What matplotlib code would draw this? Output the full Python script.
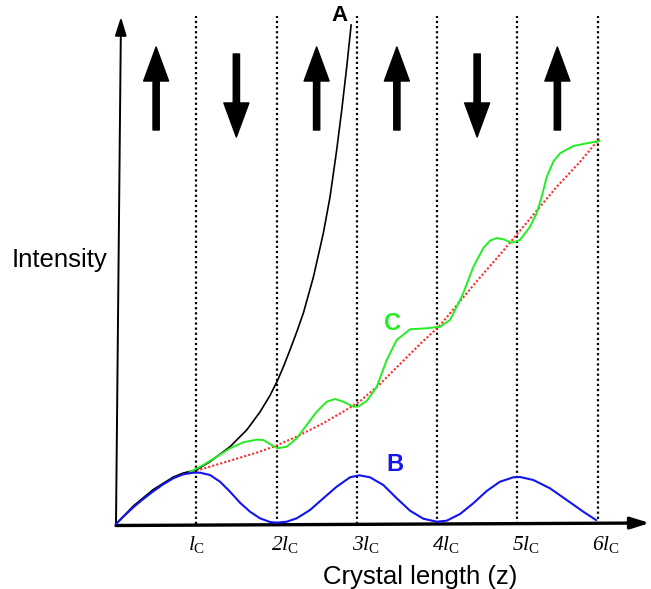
import matplotlib
matplotlib.use("Agg")
import matplotlib.pyplot as plt

plt.rcParams["font.family"] = ["Liberation Sans", "DejaVu Sans"]
# italic serif for the digits and l, upright serif for the subscript C
plt.rcParams["mathtext.fontset"] = "custom"
plt.rcParams["mathtext.rm"] = "Liberation Serif:italic"
plt.rcParams["mathtext.it"] = "Liberation Serif:italic"
plt.rcParams["mathtext.sf"] = "Liberation Serif"

# crystal length in units of the coherence length l_c
tick_pos = [1, 2, 3, 4, 5, 6]
tick_labels = [r"$l_{\mathsf{C}}$", r"$2l_{\mathsf{C}}$", r"$3l_{\mathsf{C}}$",
               r"$4l_{\mathsf{C}}$", r"$5l_{\mathsf{C}}$", r"$6l_{\mathsf{C}}$"]

# domain orientation in each coherence length (+1 up, -1 down)
domains = [1, -1, 1, 1, -1, 1]

# A: perfect phase matching
a_z = [0, 0.216, 0.465, 0.714, 0.839, 1.0, 1.171, 1.421, 1.629, 1.794,
       1.919, 2.010, 2.085, 2.168, 2.252, 2.335, 2.460, 2.584, 2.667, 2.750,
       2.813, 2.875, 2.93]
a_i = [0, 18, 34.5, 47, 51, 54, 62.3, 77.3, 94, 112, 128.5, 143, 157, 174,
       192, 211, 247, 291, 327, 374, 414, 457, 499]

# B: no phase matching
b_z = [0, 0.091, 0.216, 0.340, 0.465, 0.589, 0.714, 0.839, 0.963, 1.047,
       1.171, 1.296, 1.421, 1.545, 1.670, 1.794, 1.919, 2.002, 2.127, 2.252,
       2.418, 2.583, 2.750, 2.916, 3.032, 3.165, 3.331, 3.498, 3.664, 3.829,
       3.996, 4.121, 4.287, 4.452, 4.619, 4.785, 4.951, 5.034, 5.200, 5.408,
       5.616, 5.823, 5.981]
b_i = [0, 7.3, 16.7, 25, 32.7, 39.7, 45.7, 49.7, 51.3, 51.3, 49, 42.3, 32.3,
       21.3, 12.3, 5.7, 2, 1.3, 2.3, 5.7, 14, 25.7, 37.3, 46.7, 48.7, 46.7,
       39, 25.7, 13.3, 5.3, 2.3, 3.3, 10, 20.7, 33, 42.3, 46.7, 47, 44, 35.7,
       24, 12.3, 4]

# C: quasi phase matching
c_z = [0.922, 1.088, 1.255, 1.421, 1.586, 1.753, 1.836, 1.919, 2.010, 2.127,
       2.252, 2.376, 2.501, 2.626, 2.729, 2.832, 2.957, 3.019, 3.124, 3.249,
       3.373, 3.498, 3.664, 3.872, 4.037, 4.162, 4.287, 4.328, 4.452, 4.577,
       4.660, 4.744, 4.826, 4.931, 5.034, 5.159, 5.243, 5.305, 5.367, 5.449,
       5.533, 5.698, 5.866, 6.023]
c_i = [52, 59, 67.3, 75.7, 81.7, 84.3, 84, 80, 75.7, 77.3, 85.7, 99, 112.3,
       122.3, 125, 122.3, 117.3, 117.5, 123, 137, 164, 184, 194.7, 195.7,
       197.3, 204, 224, 231, 257, 276, 283.3, 286, 284.7, 281.3, 284, 297.3,
       311, 327.3, 347, 362.3, 370.7, 378, 380.7, 383]

# average QPM growth
r_z = [1.0, 1.38, 1.79, 2.0, 2.25, 2.58, 2.83, 3.03, 3.29, 3.54, 3.79, 4.03,
       4.28, 4.53, 4.78, 5.01, 5.24, 5.49, 5.78, 6.02]
r_i = [53.3, 62.3, 72.3, 78.5, 87.3, 100.7, 112.3, 122, 140, 160, 180, 198,
       222, 246, 269, 291, 313, 337, 362, 385]

green = "#22ee22"
blue = "#1414f0"

fig = plt.figure(figsize=(6.51, 5.89), dpi=100)
ax = fig.add_axes([0, 0, 1, 1])
ax.set_xlim(-116 / 80.25, 535 / 80.25)
ax.set_ylim(-65, 524)
ax.axis("off")

# coherence length boundaries
for z in tick_pos:
    ax.plot([z, z], [0, 508], color="black", lw=1.6,
            linestyle=(0, (1, 1.3)), zorder=1)

ax.plot(r_z, r_i, color="#ff2a2a", lw=1.5, linestyle=(0, (1, 1)), zorder=2)
ax.plot(a_z, a_i, color="black", lw=1.2, zorder=3)
ax.plot(c_z, c_i, color=green, lw=1.4, zorder=4)
ax.plot(b_z, b_i, color=blue, lw=1.5, zorder=5)

# axes drawn as arrows
ax.annotate("", xy=(0.062, 507), xytext=(0, 0),
            arrowprops=dict(arrowstyle="-|>,head_length=0.8,head_width=0.25",
                            mutation_scale=14, lw=1.4, color="black",
                            shrinkA=0, shrinkB=0))
ax.annotate("", xy=(6.65, 1), xytext=(0, -1.5),
            arrowprops=dict(arrowstyle="-|>,head_length=0.8,head_width=0.25",
                            mutation_scale=14, lw=2.4, color="black",
                            shrinkA=0, shrinkB=0))

# ferroelectric domain arrows
for i, d in enumerate(domains):
    x = i + 0.5
    if d > 0:
        tail, tip = 394, 477
    else:
        tail, tip = 470, 387
    ax.annotate("", xy=(x, tip), xytext=(x, tail),
                arrowprops=dict(arrowstyle="simple,head_length=2.45,"
                                "head_width=1.8,tail_width=0.45",
                                mutation_scale=10, fc="black", ec="black",
                                shrinkA=0, shrinkB=0))

for z, lab in zip(tick_pos, tick_labels):
    dx = -0.1 if z == 1 else -0.065
    ax.text(z + dx, -26, lab, fontsize=15.5, ha="left", va="baseline")

ax.text((420 - 116) / 80.25, -53, "Crystal length (z)", fontsize=18.5,
        ha="center", va="center")
ax.text((59 - 116) / 80.25, 264, "Intensity", fontsize=18.5,
        ha="center", va="center")

ax.text((340 - 116) / 80.25, 508.5, "A", fontsize=16, fontweight="bold",
        color="black", ha="center", va="center")
ax.text((394.5 - 116) / 80.25, 59.5, "B", fontsize=17, fontweight="bold",
        color=blue, ha="center", va="center")
ax.text((392.5 - 116) / 80.25, 200.5, "C", fontsize=17, fontweight="bold",
        color=green, ha="center", va="center")

fig.savefig("out.png", dpi=100)
